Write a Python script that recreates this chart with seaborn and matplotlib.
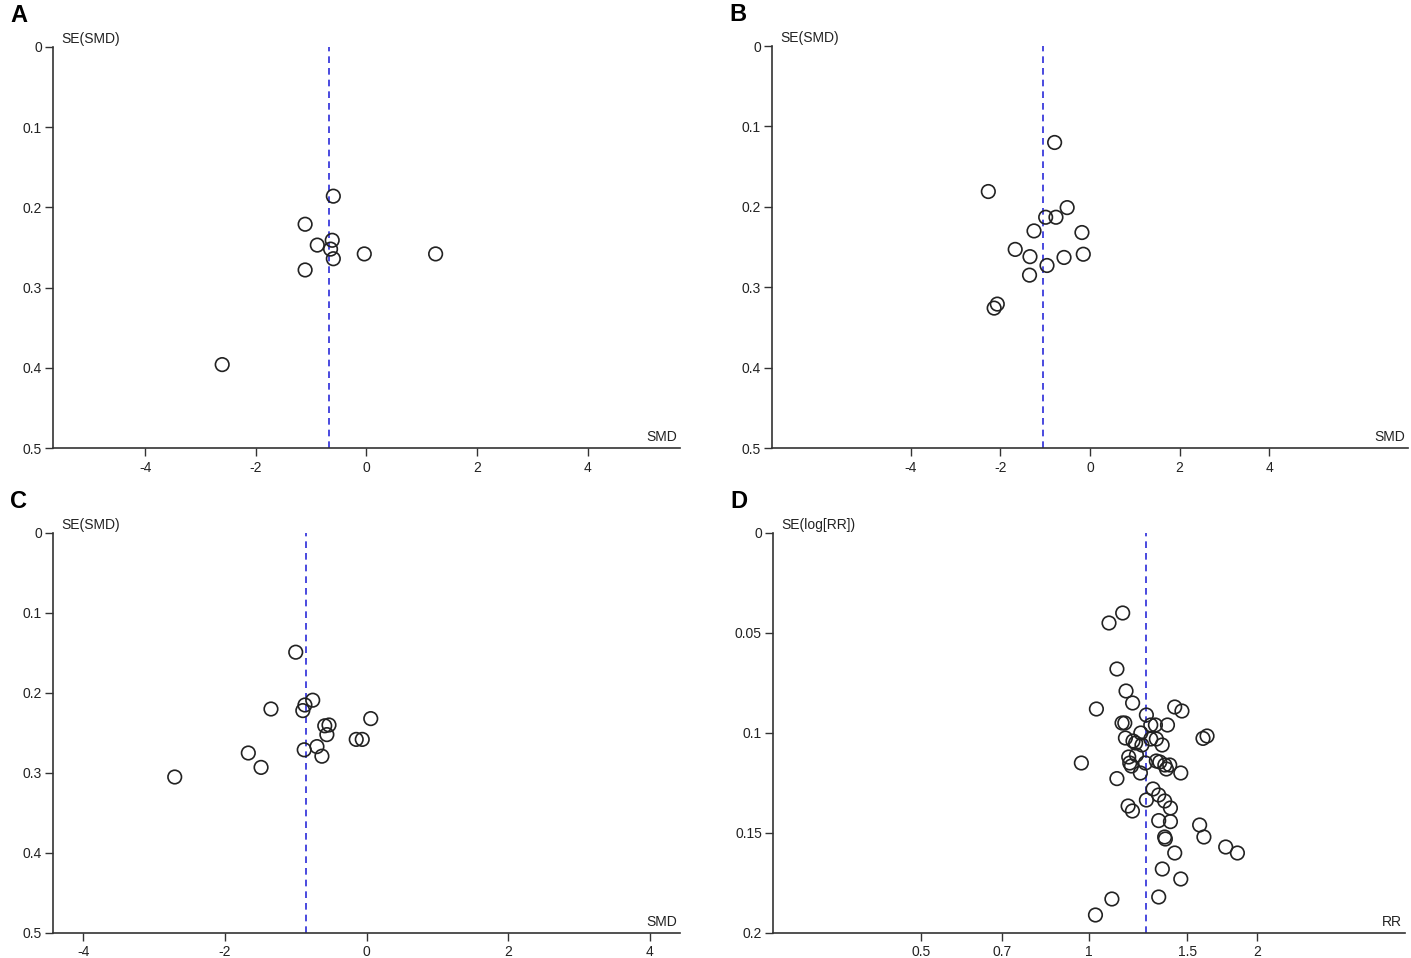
import numpy as np
import pandas as pd
import matplotlib
matplotlib.use('Agg')
import matplotlib.pyplot as plt
from matplotlib.ticker import FixedLocator, NullLocator, FixedFormatter
import seaborn as sns

# data (effect, standard error)
a_smd = [-0.60, -1.11, -0.89, -0.62, -0.65, -0.60, -1.11, -0.04, 1.25, -2.61]
a_se = [0.186, 0.221, 0.247, 0.241, 0.252, 0.264, 0.278, 0.258, 0.258, 0.396]
a_pooled = -0.67

b_smd = [-0.79, -2.27, -0.51, -0.99, -0.76, -1.25, -0.18, -1.67, -1.34, -0.15,
         -0.58, -0.96, -1.35, -2.07, -2.14]
b_se = [0.120, 0.181, 0.201, 0.213, 0.213, 0.230, 0.232, 0.253, 0.262, 0.259,
        0.263, 0.273, 0.285, 0.321, 0.326]
b_pooled = -1.06

c_smd = [-1.00, -0.76, -0.87, -0.90, -1.35, 0.06, -0.59, -0.53, -0.56, -0.145,
         -0.06, -0.88, -0.70, -0.63, -1.67, -1.49, -2.71]
c_se = [0.149, 0.209, 0.215, 0.222, 0.220, 0.232, 0.241, 0.240, 0.252, 0.258,
        0.258, 0.271, 0.267, 0.279, 0.275, 0.293, 0.305]
c_pooled = -0.85

d_rr = [1.149, 1.086, 1.122, 1.165, 1.197, 1.031, 1.424, 1.467, 1.267, 1.146,
        1.159, 1.29, 1.315, 1.382, 1.238, 1.162, 1.199, 1.212, 1.244, 1.29,
        1.32, 1.352, 1.60, 1.627, 0.969, 1.178, 1.216, 1.183, 1.191, 1.262,
        1.32, 1.339, 1.367, 1.395, 1.376, 1.236, 1.46, 1.122, 1.302, 1.333,
        1.366, 1.399, 1.267, 1.175, 1.196, 1.333, 1.399, 1.578, 1.366, 1.370,
        1.606, 1.757, 1.844, 1.424, 1.353, 1.46, 1.099, 1.333, 1.027]
d_se = [0.040, 0.045, 0.068, 0.079, 0.085, 0.088, 0.087, 0.089, 0.091, 0.095,
        0.095, 0.096, 0.096, 0.096, 0.100, 0.1025, 0.104, 0.105, 0.106, 0.103,
        0.103, 0.106, 0.1027, 0.1015, 0.115, 0.112, 0.111, 0.115, 0.1165, 0.115,
        0.114, 0.1145, 0.116, 0.116, 0.118, 0.120, 0.120, 0.1228, 0.128, 0.131,
        0.134, 0.1375, 0.1335, 0.1365, 0.139, 0.1438, 0.1443, 0.146, 0.152, 0.153,
        0.152, 0.157, 0.160, 0.160, 0.168, 0.173, 0.183, 0.182, 0.191]
d_pooled = 1.267

smd_ticks = [-4, -2, 0, 2, 4]
rr_ticks = [0.5, 0.7, 1, 1.5, 2]
rr_tick_labels = ['0.5', '0.7', '1', '1.5', '2']
se_ticks_smd = [0, 0.1, 0.2, 0.3, 0.4, 0.5]
se_labels_smd = ['0', '0.1', '0.2', '0.3', '0.4', '0.5']
se_ticks_rr = [0, 0.05, 0.1, 0.15, 0.2]
se_labels_rr = ['0', '0.05', '0.1', '0.15', '0.2']

sns.set_style('white')
plt.rcParams['font.family'] = ['Liberation Sans Narrow', 'Liberation Sans', 'DejaVu Sans']
plt.rcParams['axes.unicode_minus'] = False

fig = plt.figure(figsize=(14.11, 9.58), dpi=100)

W, H = 1411, 958
def box(l, r, t, b):
    return [l / W, 1 - b / H, (r - l) / W, (b - t) / H]

panels = [
    ('A', box(53, 680, 47, 448), a_smd, a_se, a_pooled, (-5.67, 5.67), 0.5, 'SE(SMD)', 'SMD'),
    ('B', box(772, 1408, 46, 448), b_smd, b_se, b_pooled, (-7.1, 7.1), 0.5, 'SE(SMD)', 'SMD'),
    ('C', box(53, 680, 533, 933), c_smd, c_se, c_pooled, (-4.43, 4.43), 0.5, 'SE(SMD)', 'SMD'),
    ('D', box(773, 1405, 533, 933), d_rr, d_se, d_pooled, (1 / 3.68, 3.68), 0.2, 'SE(log[RR])', 'RR'),
]

for letter, pos, xs, ys, pooled, xlim, ymax, ylab, xlab in panels:
    ax = fig.add_axes(pos)
    df = pd.DataFrame({'x': xs, 'y': ys})
    if letter == 'D':
        ax.set_xscale('log')
    ax.axvline(pooled, color='#2b2bd9', lw=1.2, ls=(0, (4, 3)), zorder=1)
    sns.scatterplot(data=df, x='x', y='y', ax=ax, marker='o', s=95,
                    facecolors='none', edgecolor='#222222', linewidth=1.2, zorder=3)
    ax.set_xlim(*xlim)
    ax.set_ylim(ymax, 0)
    if letter == 'D':
        ax.xaxis.set_major_locator(FixedLocator(rr_ticks))
        ax.xaxis.set_major_formatter(FixedFormatter(rr_tick_labels))
        ax.xaxis.set_minor_locator(NullLocator())
        ax.set_yticks(se_ticks_rr)
        ax.set_yticklabels(se_labels_rr)
    else:
        ax.set_xticks(smd_ticks)
        ax.set_yticks(se_ticks_smd)
        ax.set_yticklabels(se_labels_smd)
    ax.set_xlabel('')
    ax.set_ylabel('')
    for side in ['top', 'right']:
        ax.spines[side].set_visible(False)
    for side in ['left', 'bottom']:
        ax.spines[side].set_color('#333333')
        ax.spines[side].set_linewidth(1.2)
    ax.tick_params(axis='both', direction='out', length=6, width=1.0,
                   bottom=True, left=True, color='#333333', labelsize=10,
                   labelcolor='#222222', pad=3)
    ax.tick_params(axis='y', pad=2)
    # axis titles sit at the ends of the axes, like in RevMan funnel plots
    ax.annotate(ylab, xy=(0, 1), xycoords='axes fraction', xytext=(6, 1),
                textcoords='offset points', fontsize=10, color='#222222',
                va='bottom', ha='left')
    ax.annotate(xlab, xy=(1, 0), xycoords='axes fraction', xytext=(-2, 3),
                textcoords='offset points', fontsize=10, color='#222222',
                va='bottom', ha='right')
    fig.text(pos[0] - 43 / W, pos[1] + pos[3] + 20 / H, letter, fontsize=17,
             fontweight='bold', color='black',
             family=['Liberation Sans', 'DejaVu Sans'], va='bottom', ha='left')

fig.savefig('out.png', dpi=100)
